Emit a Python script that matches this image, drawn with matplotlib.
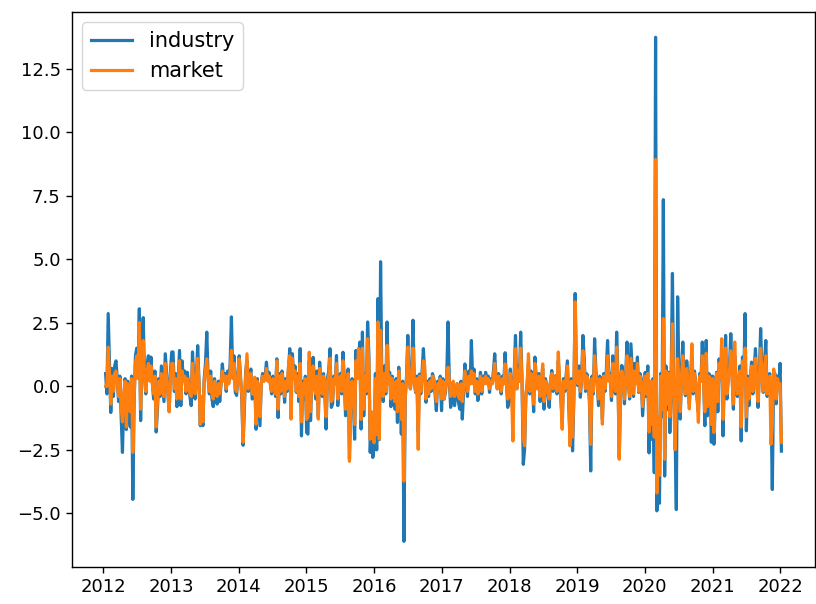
import numpy as np
import pandas as pd
import matplotlib
matplotlib.use("Agg")
import matplotlib.pyplot as plt
import matplotlib.dates as mdates

# weekly returns, one list per year (52 weeks each)
industry_2012 = [0.5, -0.3, 2.86, 0.9, -1.03, 0.7, -0.4, 0.8, 1.0, 0.3, -0.6, 0.4, -1.2, -2.6, -0.5, 0.3,
                 -1.7, 0.2, -0.8, -1.6, 0.4, -4.45, -0.6, 1.2, 1.5, 0.5, 3.05, -1.35, 1.2, 2.7, 0.4, -0.3,
                 0.9, 1.2, 0.3, 1.15, 0.2, -0.5, 0.6, -1.8, -0.9, 0.3, -0.4, 0.8, 0.1, -0.6, 1.28, 0.5,
                 -0.3, -1.0, 0.6, 1.35]
industry_2013 = [1.35, -0.2, 0.5, -0.8, 0.3, 1.41, -0.76, 1.0, 0.2, 0.6, -0.3, 0.55, 0.1, -0.4, -0.76, 1.35,
                 0.3, -0.5, 0.4, 1.6, 0.2, -1.55, -0.6, -1.55, 0.3, 0.9, 2.13, 0.4, -0.3, 0.6, -0.5, -0.8,
                 0.3, -0.5, -0.7, 0.2, -0.6, 0.1, 0.88, 0.3, 0.5, -0.2, 0.6, 0.2, 0.9, 2.73, 0.4, 1.2,
                 -0.24, -0.36, 0.5, 1.2]
industry_2014 = [0.4, -0.5, -2.32, -0.8, 0.6, 1.0, -0.2, 0.3, 0.68, -0.5, -0.4, 0.2, -1.69, 0.3, -0.6, -1.55,
                 0.1, 0.5, 0.2, 0.4, 0.95, 0.3, 0.55, 0.1, -0.3, 0.4, 0.2, -0.4, 1.08, -1.23, 0.5, -0.3,
                 0.6, 0.2, -0.63, 0.3, -0.2, 0.7, 1.48, -0.6, 1.28, 0.4, 0.8, -0.24, 0.5, -0.6, 1.48, -1.95,
                 0.2, -0.5, 0.4, -1.82]
industry_2015 = [-1.88, 1.0, -1.35, 0.3, 1.14, 0.2, -0.5, 0.6, -1.2, 0.95, 0.2, -0.4, 0.5, -0.3, -1.68, 0.3,
                 0.6, 1.48, -0.83, -0.7, 0.4, 0.1, 1.21, -0.76, 0.2, 0.5, -0.3, 1.34, 0.3, -1.16, 0.2, 0.68,
                 -2.85, -0.5, 0.3, -0.6, -2.08, 1.41, 0.4, 1.2, 1.74, -1.68, 2.13, -1.16, 0.5, -0.3, 2.53, 1.2,
                 -2.6, -1.29, -2.8, -2.4]
industry_2016 = [0.5, -2.5, 3.45, -2.1, 4.9, 0.03, -0.6, 0.8, -0.3, 2.53, 0.2, 0.55, -0.8, 0.4, -0.24, -0.9,
                 0.3, -1.42, 0.75, -0.3, -1.88, 0.2, -6.1, -0.5, 0.4, 2.0, 0.3, -0.1, 0.6, 2.6, 0.2, -0.24,
                 0.4, -1.8, 0.48, -0.3, 0.6, 1.48, 0.5, -0.63, 0.2, -0.4, 0.3, -0.2, 0.5, 0.3, -0.3, -0.96,
                 0.2, -0.1, 0.4, -0.96]
industry_2017 = [0.3, -0.5, -0.24, 0.4, 2.53, 0.2, -0.83, -0.5, 0.16, -0.76, -0.3, 0.1, -0.6, -0.9, 0.2, -1.29,
                 -0.2, 0.88, 0.3, -0.4, 0.6, 0.1, 1.8, 0.2, 0.68, -0.3, 0.3, -0.56, -0.2, 0.55, -0.3, 0.4,
                 0.1, 0.55, 0.2, 0.4, -0.24, 0.3, 0.1, 0.6, 1.28, 0.3, -0.1, 0.5, 0.2, -0.3, 0.4, 0.1,
                 1.32, 0.2, -0.83, -0.6]
industry_2018 = [0.68, -0.3, -1.0, 0.5, 2.0, -0.1, 0.8, 0.2, 2.13, 0.3, -3.07, -2.5, -0.4, 0.1, 0.9, -0.3,
                 0.6, 0.2, -1.0, 1.15, 0.3, -0.1, 0.5, -0.6, 0.2, 0.7, -0.9, 0.3, 0.1, -0.4, -0.83, 0.2,
                 0.62, -0.2, 0.3, 0.42, -0.3, 1.0, 0.2, -0.5, -1.4, 0.3, -0.2, 0.4, 1.0, -0.6, -2.0, 0.3,
                 -2.54, -0.5, 3.65, 0.4]
industry_2019 = [0.03, 0.8, -0.43, 0.3, 2.0, 1.08, -0.2, 0.49, 0.2, -0.6, -3.33, 0.4, -0.3, 1.87, 0.62, 0.1,
                 -0.76, 0.4, 0.1, -1.3, 0.5, -0.2, 0.6, 1.8, 0.3, 0.5, -0.56, 1.2, 0.2, -0.3, 2.13, 0.4,
                 -2.8, -0.2, 0.82, 0.3, -0.69, 0.5, 1.74, 0.2, -0.5, 1.67, 0.6, -0.4, 0.9, 0.2, 1.15, -0.24,
                 0.5, 0.3, -1.16, -0.3]
industry_2020 = [0.55, -0.4, 0.8, -2.62, 0.16, -2.09, 0.3, -3.4, 13.73, -4.9, -1.5, -4.6, 0.5, -1.2, 7.34, -3.53,
                 0.8, -0.9, 0.55, -1.82, 0.3, 4.44, -0.5, -1.8, -4.85, 3.52, 0.4, -1.29, 0.5, 1.74, 0.2, -0.37,
                 1.0, 0.3, -0.7, 0.4, 1.2, -0.3, 0.6, 0.1, -0.5, -1.0, 0.5, 0.2, 1.74, 0.3, -1.55, 1.8,
                 -1.16, 0.5, 0.42, -2.2]
industry_2021 = [0.4, -2.28, -0.6, 0.55, -1.0, 1.08, 0.3, 1.2, -1.95, 0.4, 2.0, -0.5, 0.29, 0.8, 2.07, 0.4,
                 -0.9, 1.2, 0.3, -0.4, -0.1, 0.8, -2.15, 1.15, 0.3, 2.86, -1.75, 0.4, -0.76, 0.2, 0.95, -0.3,
                 0.6, 1.48, 0.2, -0.83, 0.5, 2.27, 0.6, -0.24, 0.95, 1.8, -0.4, 0.16, 0.5, -0.8, -4.06, 0.3,
                 0.5, -0.69, 0.4, 0.03]
industry_2022 = [0.9, -2.55]

market_2012 = [0.0, 0.0, 1.54, 0.5, -0.7, 0.4, -0.2, 0.5, 0.6, 0.2, -0.4, 0.3, -0.8, -1.4, -0.3, 0.2,
               -1.6, 0.1, -0.5, -1.0, 0.3, -2.6, -0.4, 0.9, 1.2, 0.3, 2.5, -0.9, 0.8, 1.8, 0.3, -0.2,
               0.6, 0.9, 0.2, 0.8, 0.1, -0.3, 0.4, -1.6, -0.6, 0.2, -0.3, 0.5, 0.1, -0.4, 0.9, 0.3,
               -0.2, -1.0, 0.4, 0.9]
market_2013 = [0.9, -0.1, 0.3, -0.5, 0.2, 1.0, -0.5, 0.6, 0.2, 0.4, -0.2, 0.3, 0.1, -0.3, -0.4, 0.9,
               0.2, -0.3, 0.3, 1.1, 0.1, -1.5, -0.4, -1.4, 0.2, 0.6, 1.08, 0.3, -0.2, 0.4, -0.3, -0.5,
               0.2, -0.3, -0.4, 0.1, -0.3, 0.1, 0.6, 0.2, 0.4, -0.1, 0.4, 0.1, 0.6, 1.41, 0.3, 0.9,
               -0.1, -0.2, 0.4, 1.08]
market_2014 = [0.3, -0.3, -2.2, -0.5, 0.4, 1.28, -0.1, 0.2, 0.5, -0.3, -0.3, 0.36, -1.49, 0.2, -0.4, -1.2,
               0.1, 0.4, 0.2, 0.3, 0.7, 0.2, 0.4, 0.1, -0.2, 0.3, 0.2, -0.3, 1.0, -0.9, 0.4, -0.2,
               0.5, 0.1, -0.4, 0.2, -0.1, 0.8, 1.2, -1.29, 1.1, 0.3, 0.6, -0.2, 0.4, -0.4, 0.9, -1.4,
               0.1, -0.3, 0.3, -1.3]
market_2015 = [-1.2, 1.34, -1.0, 0.2, 0.8, 0.1, -0.3, 0.4, -1.29, 0.7, 0.2, -0.3, 0.4, -0.2, -1.2, 0.2,
               0.4, 1.1, -0.6, -0.5, 0.3, 0.1, 0.9, -0.5, 0.1, 0.4, -0.2, 1.0, 0.2, -0.9, 0.1, 0.5,
               -2.95, -0.4, 0.2, -0.4, -1.5, 1.0, 0.3, 1.48, 1.2, -1.3, 1.5, -0.9, 0.4, -0.2, 1.87, 0.9,
               -2.08, -1.0, -2.0, -2.22]
market_2016 = [0.3, -1.9, 2.53, -2.08, 2.2, 0.1, -0.4, 0.5, -0.2, 1.61, 0.1, 0.4, -0.5, 0.3, -0.2, -0.6,
               0.2, -1.0, 0.6, -0.2, -1.3, 0.1, -3.73, -0.4, 0.3, 1.54, 0.2, -0.1, 0.4, 1.5, 0.1, -0.2,
               0.3, -2.48, 0.4, -0.2, 0.4, 1.0, 0.82, -0.5, 0.1, -0.3, 0.2, -0.1, 0.4, 0.3, -0.2, -0.6,
               0.1, -0.1, 0.3, -0.5]
market_2017 = [0.2, -0.5, -0.1, 0.3, 0.75, 0.2, -0.4, -0.3, 0.2, -0.4, -0.2, 0.1, -0.4, -0.5, 0.1, -0.6,
               -0.1, 0.6, 0.2, -0.2, 0.4, 0.1, 0.6, 0.1, 0.5, -0.2, 0.2, -0.3, -0.1, 0.4, -0.2, 0.3,
               0.1, 0.4, 0.1, 0.3, -0.1, 0.2, 0.1, 0.4, 0.9, 0.2, -0.1, 0.4, 0.1, -0.2, 0.3, 0.1,
               0.88, 0.2, -0.5, -0.4]
market_2018 = [0.5, -0.2, -2.15, 0.4, 1.48, -0.1, 0.6, 0.2, 1.5, 0.2, -2.0, -2.34, -0.3, 0.1, 1.28, -0.2,
               0.5, 0.1, -0.7, 0.9, 0.2, -0.1, 0.4, -0.4, 0.2, 0.88, -0.6, 0.2, 0.1, -0.3, -0.5, 0.2,
               0.5, -0.1, 0.2, 0.4, -0.2, 1.35, 0.2, -0.4, -1.69, 0.2, -0.1, 0.3, 0.8, -0.4, -2.34, 0.2,
               -2.0, -0.3, 3.32, 0.3]
market_2019 = [0.1, 0.6, -0.2, 0.3, 1.4, 0.8, -0.1, 0.4, 0.2, -0.4, -2.28, 0.3, -0.2, 1.2, 0.5, 0.1,
               -0.5, 0.3, 0.1, -1.49, 0.4, -0.1, 0.4, 1.2, 0.2, 0.4, -0.4, 0.9, 0.2, -0.2, 1.54, 0.3,
               -2.87, -0.1, 0.6, 0.2, -0.5, 0.4, 1.2, 0.1, -0.4, 1.1, 0.4, -0.3, 0.6, 0.1, 0.9, -0.2,
               0.4, 0.2, -0.8, -0.2]
market_2020 = [0.4, -0.3, 0.5, -1.8, 0.2, -1.5, 0.2, -2.0, 8.92, -4.2, -1.2, -3.5, 0.4, -0.9, 2.66, -2.87,
               0.6, -0.7, 0.5, -1.2, 0.3, 2.46, -0.3, -2.49, -0.8, 1.09, 0.3, -1.0, 0.4, 1.2, 0.2, -0.3,
               0.7, 0.2, -0.89, 0.3, 1.67, -0.2, 0.5, 0.1, -0.4, -1.42, 0.4, 0.2, 1.2, 0.2, -1.0, 1.3,
               -0.8, 0.4, 0.3, -1.5]
market_2021 = [0.3, -1.82, -0.4, 0.5, -0.6, 0.9, 0.3, 1.87, -1.3, 0.3, 1.5, -0.3, 0.3, 0.6, 1.4, 0.3,
               -0.7, 1.74, 0.2, -0.3, -0.1, 0.6, -1.6, 1.0, 0.2, 1.5, -1.2, 0.3, -0.5, 0.2, 0.8, -0.2,
               0.5, 1.1, 0.2, -0.6, 0.4, 1.5, 0.5, -0.2, 0.8, 1.2, -0.3, 0.2, 0.4, -2.28, -1.5, 0.68,
               0.4, -0.5, 0.3, 0.1]
market_2022 = [0.1, -2.2]

industry = (industry_2012 + industry_2013 + industry_2014 + industry_2015 + industry_2016 + industry_2017
            + industry_2018 + industry_2019 + industry_2020 + industry_2021 + industry_2022)
market = (market_2012 + market_2013 + market_2014 + market_2015 + market_2016 + market_2017
          + market_2018 + market_2019 + market_2020 + market_2021 + market_2022)

dates = pd.date_range("2012-01-13", periods=len(industry), freq="W-FRI")

fig = plt.figure(figsize=(8.16, 6.04), dpi=100)
ax = fig.add_axes([0.088, 0.062, 0.911, 0.918])

ax.plot(dates, industry, color="#1f77b4", lw=2.3, label="industry")
ax.plot(dates, market, color="#ff7f0e", lw=2.3, label="market")

ax.xaxis.set_major_locator(mdates.YearLocator())
ax.xaxis.set_major_formatter(mdates.DateFormatter("%Y"))
ax.tick_params(labelsize=13, length=4.5, width=1.0)
for s in ax.spines.values():
    s.set_linewidth(1.0)

ax.legend(loc="upper left", fontsize=15)

fig.savefig("out.png", dpi=100)
